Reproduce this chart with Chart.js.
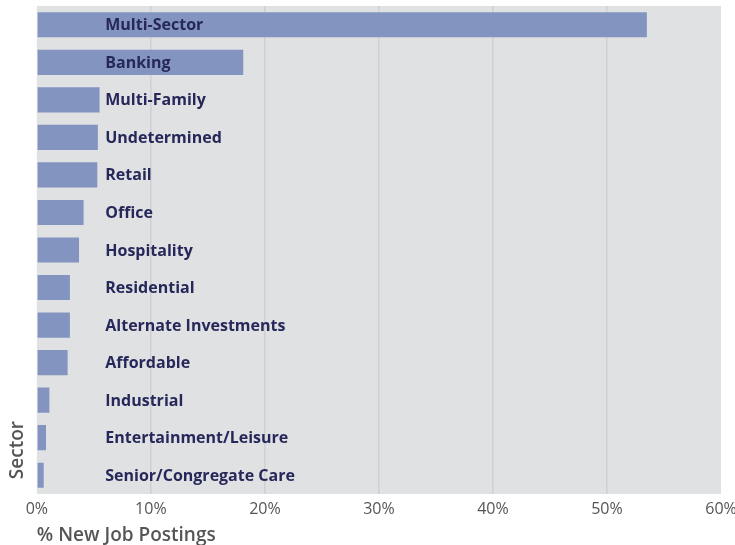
<!DOCTYPE html>
<html>
<head>
<meta charset="utf-8">
<script src="https://cdn.jsdelivr.net/npm/chart.js@4.4.0/dist/chart.umd.min.js"></script>
<style>
  html, body { margin: 0; padding: 0; background: #ffffff; }
  #wrap { width: 735px; height: 545px; position: relative; }
</style>
</head>
<body>
<div id="wrap"><canvas id="sectorChart"></canvas></div>
<script>
var sectors = ["Multi-Sector", "Banking", "Multi-Family", "Undetermined", "Retail", "Office",
    "Hospitality", "Residential", "Alternate Investments", "Affordable", "Industrial",
    "Entertainment/Leisure", "Senior/Congregate Care"];
var shares = [53.5, 18.1, 5.5, 5.35, 5.3, 4.1, 3.7, 2.9, 2.9, 2.7, 1.1, 0.8, 0.6];
var xTicks = [0, 10, 20, 30, 40, 50, 60];

// grey plot background + sector names written inside the plot
var plotDecor = {
    id: 'plotDecor',
    beforeDraw: function (chart) {
        var a = chart.chartArea, ctx = chart.ctx;
        ctx.save();
        ctx.fillStyle = '#e0e1e3';
        ctx.fillRect(a.left, a.top, a.right - a.left, a.bottom - a.top);
        ctx.restore();
    },
    afterDatasetsDraw: function (chart) {
        var ctx = chart.ctx, yScale = chart.scales.y;
        var x = chart.scales.x.getPixelForValue(6);
        ctx.save();
        ctx.font = 'bold 16px "Open Sans", sans-serif';
        ctx.fillStyle = '#27285a';
        ctx.textAlign = 'left';
        ctx.textBaseline = 'middle';
        sectors.forEach(function (name, i) {
            ctx.fillText(name, x, yScale.getPixelForValue(i) + 1);
        });
        ctx.restore();
    }
};

var ctx = document.getElementById('sectorChart').getContext('2d');
var chart = new Chart(ctx, {
    type: 'bar',
    data: {
        labels: sectors,
        datasets: [{
            data: shares,
            backgroundColor: '#8294bf',
            categoryPercentage: 0.67,
            barPercentage: 1.0
        }]
    },
    options: {
        indexAxis: 'y',
        responsive: true,
        maintainAspectRatio: false,
        animation: false,
        layout: { padding: { top: 6, right: 0, left: 5, bottom: 0 } },
        plugins: {
            legend: { display: false },
            tooltip: { enabled: false }
        },
        scales: {
            x: {
                min: 0,
                max: 60,
                afterBuildTicks: function (scale) {
                    scale.ticks = xTicks.map(function (v) { return { value: v }; });
                },
                afterFit: function (scale) {
                    scale.paddingRight = 14;
                },
                ticks: {
                    callback: function (v) { return v + '%'; },
                    color: '#555555',
                    font: { family: '"Open Sans", sans-serif', size: 16, lineHeight: 1 },
                    padding: 7,
                    maxRotation: 0
                },
                grid: {
                    color: function (c) {
                        return (c.index === 0 || c.index === xTicks.length - 1) ? 'rgba(0,0,0,0)' : '#cfd0d3';
                    },
                    lineWidth: 1.5,
                    drawTicks: false
                },
                border: { display: false },
                title: {
                    display: true,
                    text: '% New Job Postings',
                    align: 'start',
                    color: '#555555',
                    font: { family: '"Open Sans", sans-serif', size: 19, weight: '600', lineHeight: 1 },
                    padding: { top: 2, bottom: 0 }
                }
            },
            y: {
                ticks: { display: false },
                grid: { display: false },
                border: { display: false },
                title: {
                    display: true,
                    text: '\u00a0\u00a0\u00a0Sector',
                    align: 'start',
                    color: '#555555',
                    font: { family: '"Open Sans", sans-serif', size: 19, weight: '600', lineHeight: 1.15 },
                    padding: { top: 2, bottom: 0 }
                }
            }
        }
    },
    plugins: [plotDecor]
});
</script>
</body>
</html>
